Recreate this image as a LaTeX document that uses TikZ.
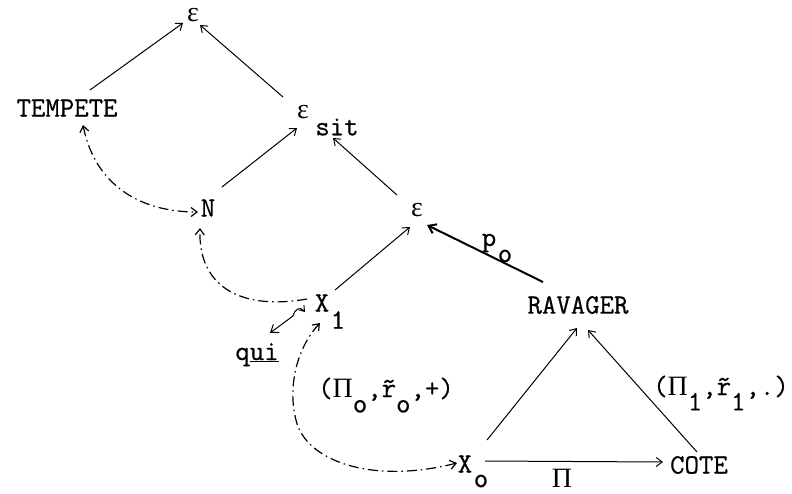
\documentclass[tikz,border=0pt]{standalone}
\usepackage{fontspec}
\setmonofont{Latin Modern Mono}[FakeBold=0.6]
\newfontfamily\grk{Liberation Serif}
\usetikzlibrary{arrows.meta,calc}
\newcommand\dn[1]{\raisebox{-0.55em}{#1}}
\begin{document}
\begin{tikzpicture}[x=1pt,y=-1pt,
  lbl/.style={inner sep=0pt, font=\fontsize{28}{32}\selectfont\ttfamily},
  arr/.style={-{Straight Barb[length=6pt,width=9pt]}, line width=1pt},
  thickarr/.style={-{Straight Barb[length=7pt,width=10pt]}, line width=2pt},
  dd/.style={dash pattern=on 10pt off 4pt on 1.5pt off 4pt, line width=1.2pt},
  ddboth/.style={dd,{Straight Barb[length=6pt,width=9pt]}-{Straight Barb[length=6pt,width=9pt]}},
  ddend/.style={dd,-{Straight Barb[length=6pt,width=9pt]}}]
\useasboundingbox (0,0) rectangle (792,493);
% nodes
\node[lbl] (eT) at (193,15) {\grk ε};
\node[lbl] (TEM) at (67,108) {TEMPETE};
\node[lbl] (eS) at (303,112) {\grk ε};
\node[lbl] (sit) at (337,127) {sit};
\node[lbl] (N) at (208,208) {N};
\node[lbl] (eM) at (417,210) {\grk ε};
\node[lbl] (po) at (489,243) {p};
\node[lbl] (poo) at (505,256) {o};
\node[lbl] (X1) at (322,303) {X};
\node[lbl] (X1s) at (338,320) {1};
\node[lbl] (RAV) at (578,305) {RAVAGER};
\node[lbl,anchor=base] (qui) at (257,360) {q\underline{ui}};
\node[lbl,anchor=base] (L0) at (386,397) {({\grk Π}\dn{o},\~{r}\dn{o},+)};
\node[lbl,anchor=base] (L1) at (721,395) {({\grk Π}\dn{1},\~{r}\dn{1},.)};
\node[lbl] (X0) at (465,464) {X};
\node[lbl] (X0s) at (481,481) {o};
\node[lbl] (COTE) at (699,465) {COTE};
\node[lbl] (Pi) at (562,478) {\grk Π};
% solid connectors
\draw[arr] ($(TEM)+(23,-18)$) -- ($(eT)+(-10,8)$);
\draw[arr] ($(eS)+(-20,-15)$) -- ($(eT)+(7,10)$);
\draw[arr] ($(N)+(14,-21)$) -- ($(eS)+(-6,16)$);
\draw[arr] ($(eM)+(-20,-15)$) -- ($(sit)+(-4,11)$);
\draw[arr] ($(X1)+(13,-13)$) -- ($(eM)+(-7,17)$);
\draw[thickarr] ($(RAV)+(-35,-23)$) -- ($(eM)+(10,15)$);
\draw[arr] ($(X0)+(22,-24)$) -- ($(RAV)+(-1,23)$);
\draw[arr] ($(COTE)+(-2,-13)$) -- ($(RAV)+(10,25)$);
\draw[arr] ($(X0)+(20,-3)$) -- ($(COTE)+(-36,-3)$);
% dash-dot connectors
\draw[ddboth] ($(TEM)+(16,17)$) .. controls (95,185) and (140,212) .. ($(N)+(-10,4)$);
\draw[ddend] ($(X1)+(-15,-4)$) .. controls (245,310) and (198,290) .. ($(N)+(-8,20)$);
\draw[ddboth] ($(X1)+(-2,20)$) .. controls (295,350) and (288,390) .. (296,420)
  .. controls (305,460) and (370,485) .. ($(X0)+(-8,-1)$);
% qui link
\draw[line width=1pt,{Straight Barb[length=5pt,width=7pt]}-{Straight Barb[length=7pt,width=10pt]}]
  ($(X1)+(-17,9)$) .. controls (300,306) and (295,309) .. (293,316) -- ($(qui.base)+(13,-27)$);
\end{tikzpicture}
\end{document}
